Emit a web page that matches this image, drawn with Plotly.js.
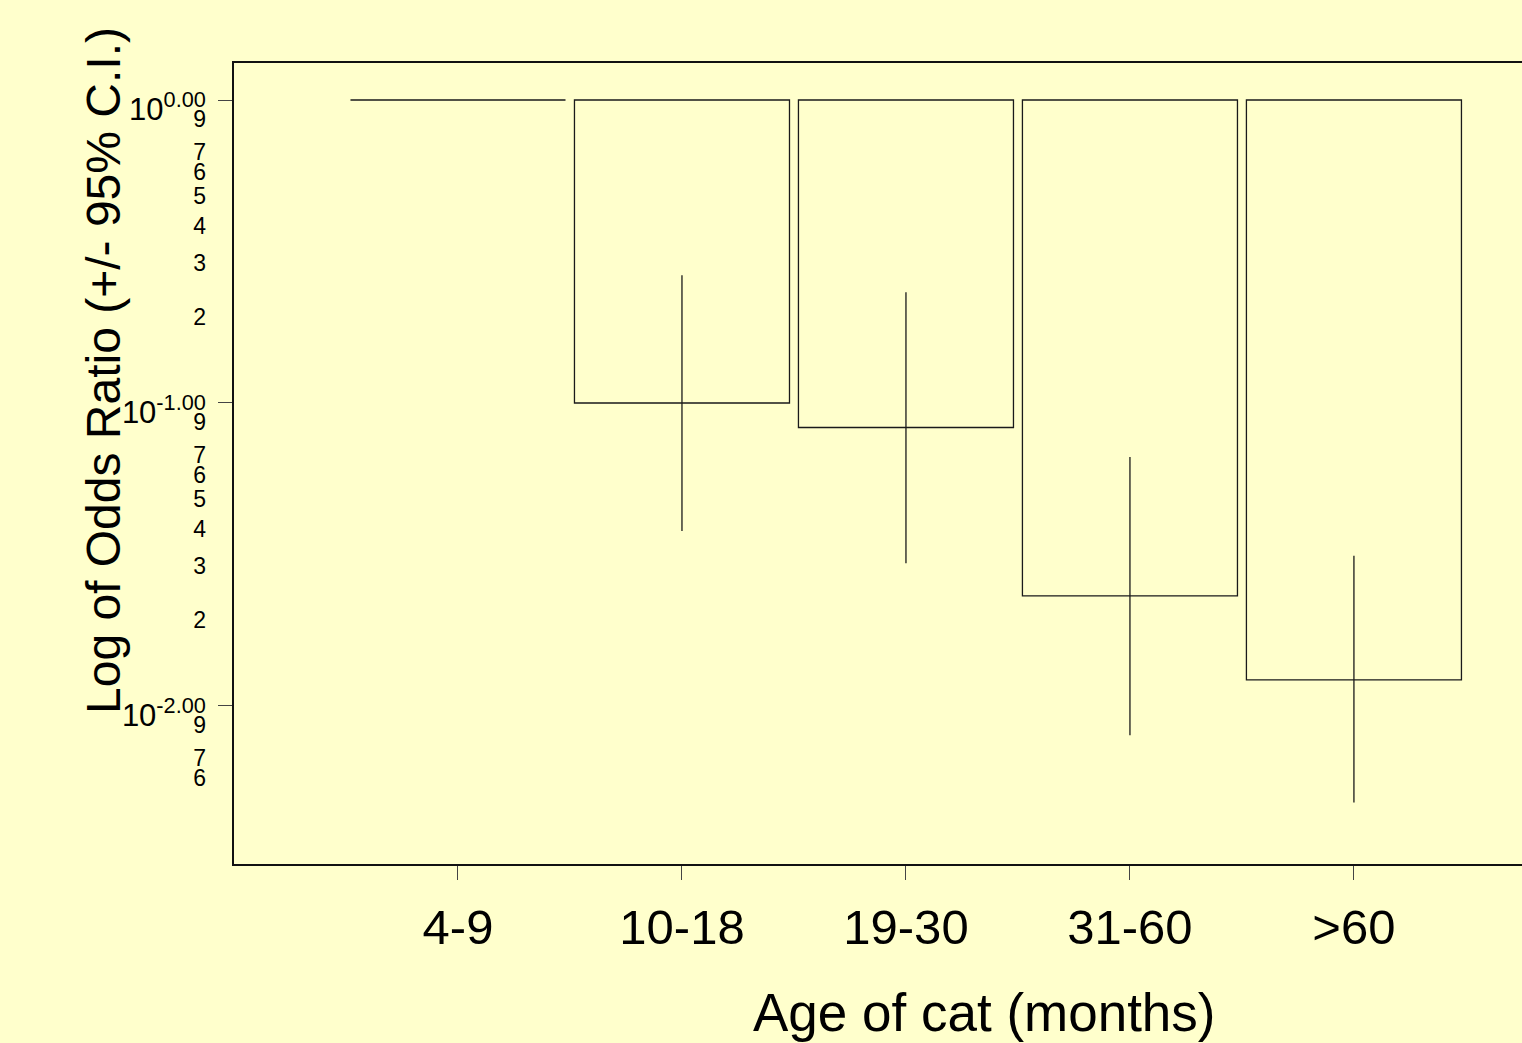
<!DOCTYPE html>
<html>
<head>
<meta charset="utf-8">
<script src="https://cdn.plot.ly/plotly-3.0.1.min.js"></script>
<style>
  html, body { margin: 0; padding: 0; background: #FFFFCC; overflow: hidden; }
  #chart { width: 1600px; height: 1043px; }
</style>
</head>
<body>
<div id="chart"></div>
<script>
// ---- data ----
const categories = ['4-9', '10-18', '19-30', '31-60', '>60'];
const oddsRatio  = [1, 0.1, 0.083, 0.0231, 0.0122];
const ciLower    = [1, 0.0378, 0.0296, 0.0080, 0.0048];
const ciUpper    = [1, 0.264, 0.232, 0.0663, 0.0313];

const majorTickVals = [1, 0.1, 0.01];
const majorTickText = ['10<sup>0.00</sup>', '10<sup>-1.00</sup>', '10<sup>-2.00</sup>'];
const minorTickVals = [0.9, 0.7, 0.6, 0.5, 0.4, 0.3, 0.2,
                       0.09, 0.07, 0.06, 0.05, 0.04, 0.03, 0.02,
                       0.009, 0.007, 0.006];
const minorTickText = ['9', '7', '6', '5', '4', '3', '2',
                       '9', '7', '6', '5', '4', '3', '2',
                       '9', '7', '6'];

const xTitle = 'Age of cat (months)';
const yTitle = 'Log of Odds Ratio (+/- 95% C.I.)';

// ---- traces ----
const refLevel = 1;
const bars = {
  type: 'bar',
  x: categories,
  base: categories.map(() => refLevel),
  y: oddsRatio.map(v => v - refLevel),
  width: 0.96,
  marker: { color: 'rgba(0,0,0,0)', line: { color: '#1a1a1a', width: 1.3 } },
  hoverinfo: 'skip',
  showlegend: false
};

const errs = {
  type: 'scatter',
  mode: 'markers',
  x: categories,
  y: oddsRatio,
  yaxis: 'y2',
  marker: { size: 1, opacity: 0 },
  error_y: {
    type: 'data',
    symmetric: false,
    array: ciUpper.map((u, i) => u - oddsRatio[i]),
    arrayminus: ciLower.map((l, i) => oddsRatio[i] - l),
    width: 0,
    thickness: 1.3,
    color: '#1a1a1a'
  },
  hoverinfo: 'skip',
  showlegend: false
};

const yRange = [-2.5215, 0.1221];
const font = 'Liberation Sans, Arial, sans-serif';

const layout = {
  width: 1600,
  height: 1043,
  margin: { l: 234, r: 40, t: 63, b: 179 },
  paper_bgcolor: '#FFFFCC',
  plot_bgcolor: '#FFFFCC',
  font: { family: font, color: '#111' },
  bargap: 0,
  xaxis: {
    type: 'category',
    range: [-1, 4.92],
    showgrid: false,
    zeroline: false,
    showline: true,
    mirror: true,
    linecolor: '#111',
    linewidth: 2,
    ticks: 'outside',
    ticklen: 14,
    tickwidth: 1,
    tickcolor: '#444',
    tickfont: { size: 49, family: font, color: '#000' },
    ticklabelstandoff: 5
  },
  yaxis: {
    type: 'log',
    range: yRange,
    showgrid: false,
    zeroline: false,
    showline: true,
    mirror: true,
    linecolor: '#111',
    linewidth: 2,
    ticks: 'outside',
    ticklen: 14,
    tickwidth: 1,
    tickcolor: '#444',
    tickmode: 'array',
    tickvals: majorTickVals,
    ticktext: majorTickText,
    tickfont: { size: 31, family: font, color: '#000' },
    ticklabelstandoff: 6,
    ticklabelshift: 9
  },
  yaxis2: {
    type: 'log',
    range: yRange,
    overlaying: 'y',
    side: 'left',
    showgrid: false,
    zeroline: false,
    showline: false,
    ticks: '',
    tickmode: 'array',
    tickvals: minorTickVals,
    ticktext: minorTickText,
    tickfont: { size: 23, family: font, color: '#000' },
    ticklabelstandoff: 27,
    ticklabelshift: 5
  },
  annotations: [
    {
      text: xTitle, xref: 'paper', yref: 'paper',
      x: (984 - 234) / 1326, y: (864 - 1012) / 801,
      xanchor: 'center', yanchor: 'middle', showarrow: false,
      font: { size: 53, family: font, color: '#000' }
    },
    {
      text: yTitle, xref: 'paper', yref: 'paper',
      x: (103 - 234) / 1326, y: (864 - 371) / 801,
      xanchor: 'center', yanchor: 'middle', showarrow: false,
      textangle: -90,
      font: { size: 48, family: font, color: '#000' }
    }
  ]
};

Plotly.newPlot('chart', [bars, errs], layout, { displayModeBar: false, staticPlot: true });
</script>
</body>
</html>
